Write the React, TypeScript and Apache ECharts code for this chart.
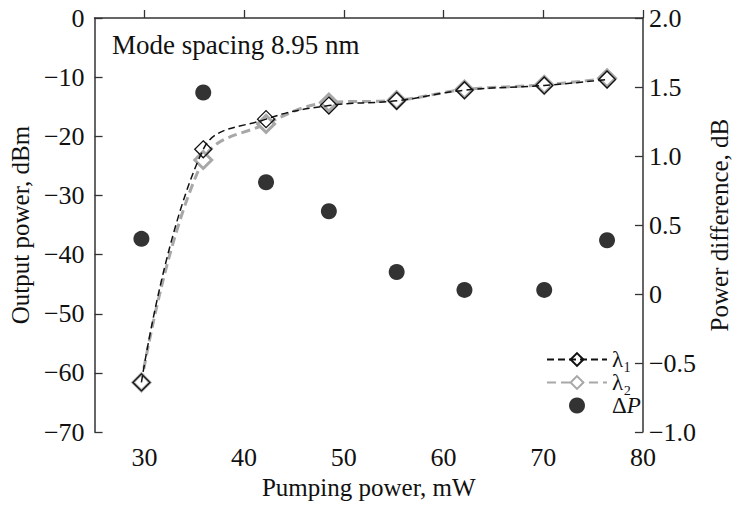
import React, { useEffect, useRef } from "react";
import * as echarts from "echarts";

const pumping = [29.7, 35.9, 42.2, 48.5, 55.3, 62.1, 70.1, 76.4];
const lambda1 = [-61.6, -22.2, -17.1, -14.8, -14.0, -12.2, -11.4, -10.4];
const lambda2 = [-61.6, -24.0, -17.9, -14.3, -13.9, -12.1, -11.3, -10.2];
const deltaP = [0.4, 1.46, 0.81, 0.6, 0.16, 0.03, 0.03, 0.39];
const xTicks = [30, 40, 50, 60, 70, 80];

const FONT = "'Liberation Serif', 'Times New Roman', Times, serif";
const FS = 26;
const minus = (s: string) => s.replace("-", "\u2212");

export default function App() {
  const ref = useRef<HTMLDivElement>(null);
  useEffect(() => {
    const chart = echarts.init(ref.current!, null, { renderer: "svg" });
    const axisCommon = {
      axisLine: { show: true, lineStyle: { color: "#333", width: 1.5 } },
      axisTick: { show: true, inside: true, length: 8, lineStyle: { color: "#333", width: 1.3 } },
      splitLine: { show: false },
      axisLabel: { color: "#111", fontFamily: FONT, fontSize: FS, margin: 10 },
      nameTextStyle: { color: "#111", fontFamily: FONT, fontSize: 25 },
    };
    chart.setOption({
      animation: false,
      grid: { left: 91, right: 66, top: 18, bottom: 68 },
      xAxis: {
        type: "value",
        min: 25,
        max: 80,
        interval: 5,
        name: "Pumping power, mW",
        nameLocation: "middle",
        nameGap: 42,
        ...axisCommon,
        axisLabel: {
          ...axisCommon.axisLabel,
          margin: 12,
          customValues: xTicks,
        },
        axisTick: { ...axisCommon.axisTick, customValues: xTicks },
      },
      yAxis: [
        {
          type: "value",
          min: -70,
          max: 0,
          interval: 10,
          name: "Output power, dBm",
          nameLocation: "middle",
          nameGap: 60,
          ...axisCommon,
          axisLabel: { ...axisCommon.axisLabel, formatter: (v: number) => minus(String(v)) },
        },
        {
          type: "value",
          min: -1,
          max: 2,
          interval: 0.5,
          position: "right",
          name: "Power difference, dB",
          nameLocation: "middle",
          nameGap: 50,
          nameRotate: 90,
          ...axisCommon,
          axisLabel: {
            ...axisCommon.axisLabel,
            margin: 6,
            formatter: (v: number) => (v === 0 ? "0" : minus(v.toFixed(1))),
          },
        },
      ],
      legend: {
        orient: "vertical",
        left: 541,
        top: 343,
        itemWidth: 60,
        itemHeight: 16,
        itemGap: 0,
        data: ["l1", "l2", "dp"],
        textStyle: {
          fontFamily: FONT,
          fontSize: 23,
          lineHeight: 20,
          color: "#111",
          rich: {
            i: { fontFamily: FONT, fontSize: 23, lineHeight: 20, color: "#111", fontStyle: "italic" },
          },
        },
        formatter: (n: string) =>
          n === "l1" ? "\u03bb\u2081" : n === "l2" ? "\u03bb\u2082" : "\u0394{i|P}",
      },
      graphic: [
        {
          type: "text",
          left: 112,
          top: 31,
          style: { text: "Mode spacing 8.95 nm", fontFamily: FONT, fontSize: 27, fill: "#111" },
        },
      ],
      series: [
        {
          name: "l2",
          type: "line",
          yAxisIndex: 0,
          smooth: 0.4,
          data: pumping.map((x, i) => [x, lambda2[i]]),
          symbol: "diamond",
          symbolSize: 17,
          lineStyle: { color: "#a8a8a8", width: 3, type: [9, 5] },
          itemStyle: { color: "#fff", borderColor: "#a8a8a8", borderWidth: 3 },
          z: 2,
        },
        {
          name: "l1",
          type: "line",
          yAxisIndex: 0,
          smooth: 0.4,
          data: pumping.map((x, i) => [x, lambda1[i]]),
          symbol: "diamond",
          symbolSize: 17,
          lineStyle: { color: "#111", width: 1.5, type: [7, 4] },
          itemStyle: { color: "rgba(255,255,255,0)", borderColor: "#111", borderWidth: 1.3 },
          z: 3,
        },
        {
          name: "dp",
          type: "scatter",
          yAxisIndex: 1,
          data: pumping.map((x, i) => [x, deltaP[i]]),
          symbol: "circle",
          symbolSize: 16,
          itemStyle: { color: "#000" },
          z: 4,
        },
      ],
    });
    return () => chart.dispose();
  }, []);
  return (
    <div
      ref={ref}
      style={{ position: "absolute", left: 0, top: 0, width: 740, height: 505 }}
    />
  );
}
